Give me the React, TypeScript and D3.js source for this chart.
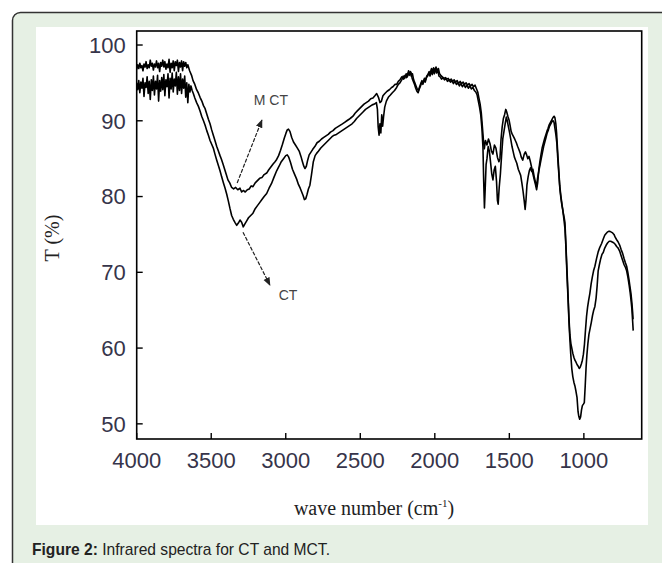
import * as d3 from 'd3';

// wave number (cm-1), transmittance (%)
const mctSpectrum: [number, number][] = [
  [4000, 96.8], [3993, 97.4], [3986, 96.9], [3979, 97.6], [3972, 97.0], [3965, 97.3], [3958, 96.6], [3951, 97.5],
  [3944, 97.1], [3937, 97.8], [3930, 96.9], [3923, 97.4], [3916, 97.0], [3909, 98.0], [3902, 97.2], [3895, 97.6],
  [3888, 96.7], [3881, 97.5], [3874, 97.1], [3867, 97.9], [3860, 97.0], [3853, 97.6], [3846, 96.5], [3839, 97.7],
  [3832, 97.2], [3825, 98.0], [3818, 97.1], [3811, 97.8], [3804, 96.8], [3797, 97.5], [3790, 97.0], [3783, 98.1],
  [3776, 96.4], [3769, 97.6], [3762, 97.0], [3755, 97.9], [3748, 96.6], [3741, 97.8], [3734, 97.3], [3727, 98.0],
  [3720, 96.5], [3713, 97.7], [3706, 97.1], [3699, 97.9], [3692, 96.6], [3685, 97.8], [3678, 97.2], [3671, 97.7],
  [3664, 97.0], [3657, 97.4], [3645, 96.6], [3632, 96.0], [3622, 95.3], [3610, 94.8], [3598, 94.1], [3587, 93.7],
  [3575, 93.1], [3563, 92.6], [3552, 92.0], [3541, 91.6], [3530, 90.9], [3519, 90.2], [3508, 89.6], [3497, 88.8],
  [3486, 88.1], [3475, 87.4], [3463, 86.6], [3452, 86.0], [3441, 85.4], [3431, 84.9], [3421, 84.3], [3410, 83.6],
  [3399, 82.9], [3388, 82.2], [3376, 81.8], [3363, 81.2], [3350, 81.0], [3336, 81.2], [3322, 80.9], [3307, 81.1],
  [3296, 80.6], [3285, 80.8], [3272, 80.6], [3258, 80.9], [3245, 81.0], [3232, 81.4], [3220, 81.3], [3205, 81.8],
  [3190, 82.1], [3175, 82.4], [3160, 82.5], [3145, 82.9], [3128, 83.1], [3115, 83.5], [3100, 83.9], [3085, 84.3],
  [3072, 84.6], [3061, 84.9], [3048, 85.4], [3035, 86.1], [3022, 86.9], [3010, 87.7], [2998, 88.4], [2990, 88.8],
  [2982, 88.9], [2972, 88.6], [2960, 87.8], [2948, 87.2], [2935, 86.8], [2922, 86.4], [2910, 86.0], [2898, 85.3],
  [2888, 84.6], [2879, 84.0], [2871, 83.7], [2862, 84.0], [2853, 84.8], [2843, 85.5], [2833, 85.8], [2820, 86.2],
  [2805, 86.6], [2790, 87.1], [2775, 87.3], [2760, 87.6], [2745, 87.8], [2730, 88.0], [2715, 88.2], [2700, 88.5],
  [2683, 88.7], [2668, 89.0], [2652, 89.2], [2636, 89.4], [2620, 89.6], [2605, 89.8], [2590, 90.0], [2575, 90.2],
  [2562, 90.4], [2549, 90.6], [2535, 91.0], [2520, 91.3], [2505, 91.6], [2490, 91.9], [2475, 92.2], [2460, 92.4],
  [2445, 92.6], [2430, 92.9], [2415, 93.0], [2402, 93.3], [2390, 93.6], [2378, 93.1], [2368, 92.4], [2358, 92.6],
  [2348, 93.3], [2335, 93.6], [2320, 93.9], [2305, 94.1], [2290, 94.4], [2281, 94.5], [2268, 94.8], [2256, 94.8],
  [2245, 95.2], [2234, 95.4], [2222, 95.8], [2210, 95.5], [2200, 96.0], [2190, 95.7], [2180, 96.3], [2172, 96.0],
  [2165, 96.5], [2158, 95.9], [2150, 96.2], [2142, 95.4], [2134, 95.0], [2126, 94.6], [2118, 94.2], [2110, 94.0],
  [2102, 94.5], [2094, 94.9], [2086, 95.3], [2078, 95.0], [2070, 95.6], [2062, 95.4], [2054, 95.9], [2046, 96.1],
  [2038, 96.5], [2030, 96.2], [2022, 96.9], [2015, 96.4], [2008, 97.0], [2000, 96.5], [1992, 97.1], [1984, 96.6],
  [1976, 96.9], [1968, 96.2], [1960, 96.0], [1950, 95.8], [1940, 95.6], [1930, 95.7], [1920, 95.5], [1910, 95.6],
  [1900, 95.3], [1890, 95.5], [1880, 95.2], [1870, 95.4], [1860, 95.1], [1850, 95.3], [1840, 94.9], [1830, 95.2],
  [1820, 94.9], [1810, 95.1], [1800, 94.8], [1790, 95.0], [1780, 94.7], [1770, 94.9], [1760, 94.6], [1750, 94.8],
  [1740, 94.5], [1730, 94.7], [1720, 94.2], [1712, 93.8], [1704, 93.0], [1696, 92.2], [1688, 91.0], [1680, 89.0],
  [1674, 87.5], [1668, 86.3], [1660, 87.4], [1650, 86.8], [1640, 87.6], [1630, 87.0], [1620, 86.0], [1610, 85.6],
  [1600, 86.8], [1590, 86.4], [1580, 85.2], [1570, 84.6], [1563, 85.0], [1556, 87.5], [1548, 89.2], [1540, 90.3],
  [1532, 90.8], [1524, 91.5], [1518, 91.2], [1510, 90.6], [1502, 90.1], [1495, 89.4], [1488, 88.6], [1480, 88.2],
  [1472, 87.9], [1462, 87.5], [1453, 87.1], [1444, 86.6], [1436, 86.2], [1428, 85.8], [1420, 85.2], [1410, 84.8],
  [1400, 85.6], [1392, 85.9], [1384, 85.5], [1376, 85.0], [1368, 85.3], [1360, 84.7], [1350, 83.8], [1342, 83.0],
  [1334, 82.3], [1325, 81.6], [1317, 80.9], [1310, 81.8], [1302, 83.6], [1295, 84.6], [1287, 85.6], [1280, 86.4],
  [1272, 87.0], [1264, 87.6], [1256, 88.1], [1248, 88.6], [1240, 89.0], [1232, 89.5], [1224, 89.8], [1216, 90.1],
  [1208, 90.4], [1200, 90.6], [1194, 90.4], [1188, 89.6], [1183, 88.4], [1176, 86.0], [1170, 84.0], [1162, 81.5],
  [1155, 80.2], [1147, 79.0], [1140, 78.0], [1133, 77.3], [1127, 76.6], [1121, 74.0], [1116, 71.6], [1110, 68.8],
  [1105, 66.4], [1100, 64.0], [1094, 61.8], [1087, 60.6], [1081, 60.0], [1074, 59.3], [1067, 58.8], [1060, 58.4],
  [1052, 58.1], [1045, 57.8], [1038, 57.6], [1031, 57.3], [1024, 57.5], [1017, 57.9], [1010, 58.4], [1003, 59.2],
  [996, 60.5], [989, 62.4], [982, 64.2], [975, 65.4], [968, 66.3], [960, 67.2], [951, 68.5], [943, 69.4],
  [935, 70.2], [926, 70.8], [915, 71.8], [904, 72.7], [893, 73.3], [881, 73.8], [870, 74.4], [860, 74.9],
  [852, 75.1], [843, 75.3], [834, 75.4], [825, 75.4], [816, 75.3], [807, 75.2], [798, 75.0], [789, 74.6],
  [780, 74.3], [770, 74.0], [760, 73.6], [750, 73.0], [740, 72.5], [730, 71.8], [722, 71.3], [713, 70.8],
  [705, 70.0], [697, 69.0], [690, 68.0], [684, 67.2], [678, 66.0], [673, 64.8], [670, 63.8],
];

const ctSpectrum: [number, number][] = [
  [4000, 95.0], [3993, 94.1], [3986, 95.3], [3979, 93.7], [3972, 95.1], [3965, 94.3], [3958, 95.6], [3951, 93.2],
  [3944, 95.0], [3937, 94.4], [3930, 95.8], [3923, 93.6], [3916, 95.2], [3909, 92.8], [3902, 95.4], [3895, 94.0],
  [3888, 95.9], [3881, 93.4], [3874, 95.2], [3867, 94.2], [3860, 96.0], [3853, 92.6], [3846, 95.3], [3839, 93.9],
  [3832, 95.7], [3825, 94.1], [3818, 96.1], [3811, 93.3], [3804, 95.4], [3797, 94.5], [3790, 96.2], [3783, 93.0],
  [3776, 95.6], [3769, 94.2], [3762, 96.3], [3755, 93.8], [3748, 95.5], [3741, 94.6], [3734, 96.4], [3727, 93.5],
  [3720, 95.8], [3713, 94.0], [3706, 96.2], [3699, 93.6], [3692, 95.5], [3685, 94.3], [3678, 95.9], [3671, 93.1],
  [3664, 95.0], [3657, 92.4], [3650, 94.8], [3643, 93.8], [3636, 94.6], [3628, 94.0], [3620, 93.6], [3610, 93.0],
  [3598, 92.4], [3586, 91.9], [3575, 91.3], [3564, 90.6], [3552, 90.0], [3541, 89.4], [3530, 88.7], [3519, 88.1],
  [3508, 87.4], [3497, 86.9], [3486, 86.4], [3475, 85.6], [3463, 84.8], [3452, 84.1], [3441, 83.4], [3430, 82.6],
  [3418, 81.8], [3407, 81.1], [3396, 80.3], [3385, 79.4], [3374, 78.4], [3363, 77.5], [3352, 77.0], [3341, 76.6],
  [3329, 76.2], [3318, 76.5], [3307, 76.9], [3296, 76.6], [3285, 76.0], [3274, 76.4], [3262, 76.8], [3250, 77.2],
  [3235, 77.5], [3220, 77.8], [3205, 78.4], [3190, 78.8], [3175, 79.2], [3160, 79.6], [3145, 80.0], [3128, 80.4],
  [3112, 81.1], [3096, 81.7], [3080, 82.5], [3061, 83.4], [3045, 84.0], [3030, 84.6], [3015, 85.0], [3000, 85.4],
  [2990, 85.5], [2980, 85.2], [2968, 84.5], [2955, 83.6], [2942, 83.0], [2927, 82.3], [2915, 81.6], [2903, 81.1],
  [2893, 80.6], [2883, 80.1], [2875, 79.6], [2866, 79.7], [2857, 80.3], [2848, 81.0], [2838, 81.5], [2828, 82.8],
  [2815, 84.6], [2803, 85.4], [2793, 85.7], [2780, 86.0], [2765, 86.4], [2750, 86.7], [2735, 87.0], [2720, 87.3],
  [2705, 87.6], [2690, 87.9], [2675, 88.1], [2660, 88.2], [2645, 88.4], [2630, 88.6], [2615, 88.8], [2600, 89.0],
  [2585, 89.2], [2570, 89.4], [2555, 89.6], [2540, 89.9], [2525, 90.3], [2510, 90.6], [2495, 90.9], [2480, 91.2],
  [2465, 91.5], [2450, 91.7], [2435, 91.9], [2420, 92.1], [2405, 92.2], [2392, 92.4], [2385, 91.5], [2380, 89.2],
  [2374, 88.1], [2368, 89.6], [2362, 88.4], [2356, 90.8], [2350, 89.3], [2344, 90.5], [2336, 91.8], [2325, 92.6],
  [2312, 93.1], [2298, 93.4], [2285, 93.7], [2270, 94.0], [2256, 94.4], [2245, 94.8], [2234, 95.0], [2222, 95.4],
  [2212, 95.9], [2202, 95.6], [2192, 96.2], [2184, 95.8], [2176, 96.6], [2168, 96.1], [2160, 96.4], [2152, 95.6],
  [2144, 95.2], [2136, 94.8], [2128, 94.3], [2120, 93.9], [2112, 93.7], [2104, 94.2], [2096, 94.6], [2088, 95.1],
  [2080, 94.8], [2072, 95.4], [2064, 95.1], [2056, 95.7], [2048, 95.9], [2040, 96.3], [2032, 95.9], [2024, 96.7],
  [2017, 96.1], [2010, 96.8], [2003, 96.2], [1996, 96.9], [1988, 96.3], [1980, 96.7], [1972, 95.9], [1964, 95.8],
  [1955, 95.5], [1945, 95.7], [1935, 95.4], [1925, 95.6], [1915, 95.2], [1905, 95.4], [1895, 95.1], [1885, 95.3],
  [1875, 94.9], [1865, 95.2], [1855, 94.8], [1845, 95.0], [1835, 94.6], [1825, 94.9], [1815, 94.5], [1805, 94.8],
  [1795, 94.4], [1785, 94.7], [1775, 94.3], [1765, 94.6], [1755, 94.2], [1745, 94.4], [1735, 94.0], [1725, 93.8],
  [1716, 93.4], [1708, 92.6], [1700, 91.8], [1692, 90.8], [1684, 89.0], [1677, 86.5], [1672, 82.0], [1667, 78.5],
  [1662, 81.0], [1656, 84.2], [1650, 85.0], [1642, 86.6], [1634, 86.0], [1626, 84.5], [1618, 83.0], [1610, 82.2],
  [1602, 83.5], [1594, 84.0], [1586, 82.0], [1580, 79.5], [1575, 79.0], [1568, 81.2], [1560, 83.0], [1552, 85.4],
  [1544, 87.6], [1536, 88.6], [1528, 89.6], [1520, 90.5], [1514, 90.0], [1506, 89.2], [1498, 88.4], [1490, 87.5],
  [1482, 86.6], [1474, 85.9], [1466, 85.2], [1458, 84.8], [1450, 84.4], [1440, 83.6], [1432, 83.2], [1424, 82.8],
  [1416, 81.8], [1408, 80.7], [1400, 79.4], [1394, 78.3], [1388, 79.6], [1382, 81.5], [1374, 82.6], [1366, 83.4],
  [1358, 83.8], [1350, 83.3], [1342, 83.6], [1334, 82.7], [1326, 82.0], [1318, 81.3], [1310, 82.5], [1302, 83.4],
  [1294, 84.2], [1286, 85.0], [1278, 85.8], [1270, 86.6], [1262, 87.2], [1254, 87.8], [1246, 88.4], [1238, 88.8],
  [1230, 89.3], [1222, 89.6], [1214, 89.9], [1206, 90.0], [1200, 89.8], [1194, 89.0], [1188, 88.2], [1181, 87.0],
  [1175, 85.0], [1168, 83.0], [1161, 81.0], [1154, 79.8], [1147, 78.8], [1141, 78.2], [1134, 77.0], [1127, 75.8],
  [1121, 73.5], [1116, 71.0], [1110, 68.2], [1105, 66.0], [1100, 63.5], [1094, 61.2], [1088, 59.2], [1081, 57.3],
  [1074, 56.2], [1067, 55.5], [1060, 55.0], [1053, 54.3], [1046, 53.5], [1039, 51.6], [1034, 51.0], [1028, 50.6],
  [1022, 50.9], [1016, 51.8], [1010, 52.4], [1003, 52.6], [997, 52.8], [991, 55.0], [985, 57.5], [980, 59.0],
  [973, 60.6], [966, 61.8], [958, 62.6], [950, 63.4], [942, 64.3], [934, 65.0], [926, 65.5], [918, 66.6],
  [911, 68.2], [904, 70.2], [896, 71.0], [887, 71.8], [878, 72.4], [870, 72.6], [860, 73.2], [850, 73.6],
  [840, 73.9], [830, 74.1], [820, 74.1], [810, 74.0], [800, 73.9], [790, 73.7], [780, 73.4], [770, 73.2],
  [760, 72.8], [750, 72.2], [740, 71.6], [730, 71.0], [720, 70.6], [713, 70.2], [705, 69.4], [697, 68.4],
  [690, 67.4], [684, 66.4], [678, 65.2], [673, 63.6], [669, 62.3],
];

const xTicks = [4000, 3500, 3000, 2500, 2000, 1500, 1000];
const yTicks = [100, 90, 80, 70, 60, 50];

// annotation arrows in data units: [from, to]
const mctArrow: [number, number][] = [[3326, 81.8], [3160, 90.1]];
const ctArrow: [number, number][] = [[3287, 75.3], [3106, 68.3]];

const W = 662;
const H = 563;
const plot = { left: 136.7, right: 641.7, top: 31, bottom: 439 };

const sans = 'Liberation Sans, Arial, sans-serif';
const serif = 'Liberation Serif, Times New Roman, serif';

const App = () => {
  const x = d3.scaleLinear().domain([4000, 612]).range([plot.left, plot.right]);
  const y = d3.scaleLinear().domain([48.0, 101.85]).range([plot.bottom, plot.top]);

  const line = d3
    .line<[number, number]>()
    .x((d) => x(d[0]))
    .y((d) => y(d[1]));

  return (
    <svg
      width={W}
      height={H}
      style={{ position: 'absolute', left: 0, top: 0, display: 'block' }}
    >
      <defs>
        <marker id='arrow' viewBox='0 0 10 10' refX='9' refY='5' markerWidth='7' markerHeight='7' orient='auto'>
          <path d='M0,1 L10,5 L0,9 Z' fill='#222' />
        </marker>
      </defs>
      <rect x={0} y={0} width={W} height={H} fill='#fff' />
      <rect x={12.5} y={12.5} width={720} height={620} rx={8} fill='#e6f0e4' stroke='#333' strokeWidth={1.5} />
      <rect x={36} y={27} width={612} height={498} fill='#fff' />

      {/* spectra */}
      <g fill='none' stroke='#000' strokeWidth={1.6} strokeLinejoin='round'>
        <path d={line(mctSpectrum) ?? ''} />
        <path d={line(ctSpectrum) ?? ''} />
      </g>

      {/* frame */}
      <rect
        x={plot.left}
        y={plot.top}
        width={plot.right - plot.left}
        height={plot.bottom - plot.top}
        fill='none'
        stroke='#000'
        strokeWidth={1.6}
      />

      {/* y axis */}
      {yTicks.map((t) => (
        <g key={t}>
          <line x1={plot.left} x2={plot.left + 6} y1={y(t)} y2={y(t)} stroke='#000' strokeWidth={1.4} />
          <text
            x={plot.left - 11}
            y={y(t)}
            dy='0.36em'
            textAnchor='end'
            fontFamily={sans}
            fontSize={22}
            fill='#36344a'
          >
            {t}
          </text>
        </g>
      ))}

      {/* x axis */}
      {xTicks.map((t) => (
        <g key={t}>
          <line x1={x(t)} x2={x(t)} y1={plot.bottom} y2={plot.bottom - 6} stroke='#000' strokeWidth={1.4} />
          <text x={x(t)} y={468} textAnchor='middle' fontFamily={sans} fontSize={22} fill='#36344a'>
            {t}
          </text>
        </g>
      ))}

      <text x={374} y={515} textAnchor='middle' fontFamily={serif} fontSize={20} fill='#222'>
        wave number (cm
        <tspan fontSize={11} dy={-8}>-1</tspan>
        <tspan dy={8}>)</tspan>
      </text>
      <text transform='translate(59,238) rotate(-90)' textAnchor='middle' fontFamily={serif} fontSize={20} fill='#222'>
        T (%)
      </text>

      {/* annotations */}
      <line
        x1={x(mctArrow[0][0])}
        y1={y(mctArrow[0][1])}
        x2={x(mctArrow[1][0])}
        y2={y(mctArrow[1][1])}
        stroke='#222'
        strokeWidth={1.2}
        strokeDasharray='4 1.5'
        markerEnd='url(#arrow)'
      />
      <text x={x(3100)} y={y(92.1)} textAnchor='middle' fontFamily={sans} fontSize={14} fill='#444'>
        M CT
      </text>
      <line
        x1={x(ctArrow[0][0])}
        y1={y(ctArrow[0][1])}
        x2={x(ctArrow[1][0])}
        y2={y(ctArrow[1][1])}
        stroke='#222'
        strokeWidth={1.2}
        strokeDasharray='4 1.5'
        markerEnd='url(#arrow)'
      />
      <text x={x(2985)} y={y(66.4)} textAnchor='middle' fontFamily={sans} fontSize={14} fill='#444'>
        CT
      </text>

      {/* caption */}
      <text x={32} y={555} fontFamily={sans} fontSize={17} fill='#222' textLength={298} lengthAdjust='spacingAndGlyphs'>
        <tspan fontWeight='bold'>Figure 2:</tspan> Infrared spectra for CT and MCT.
      </text>
    </svg>
  );
};

export default App;
